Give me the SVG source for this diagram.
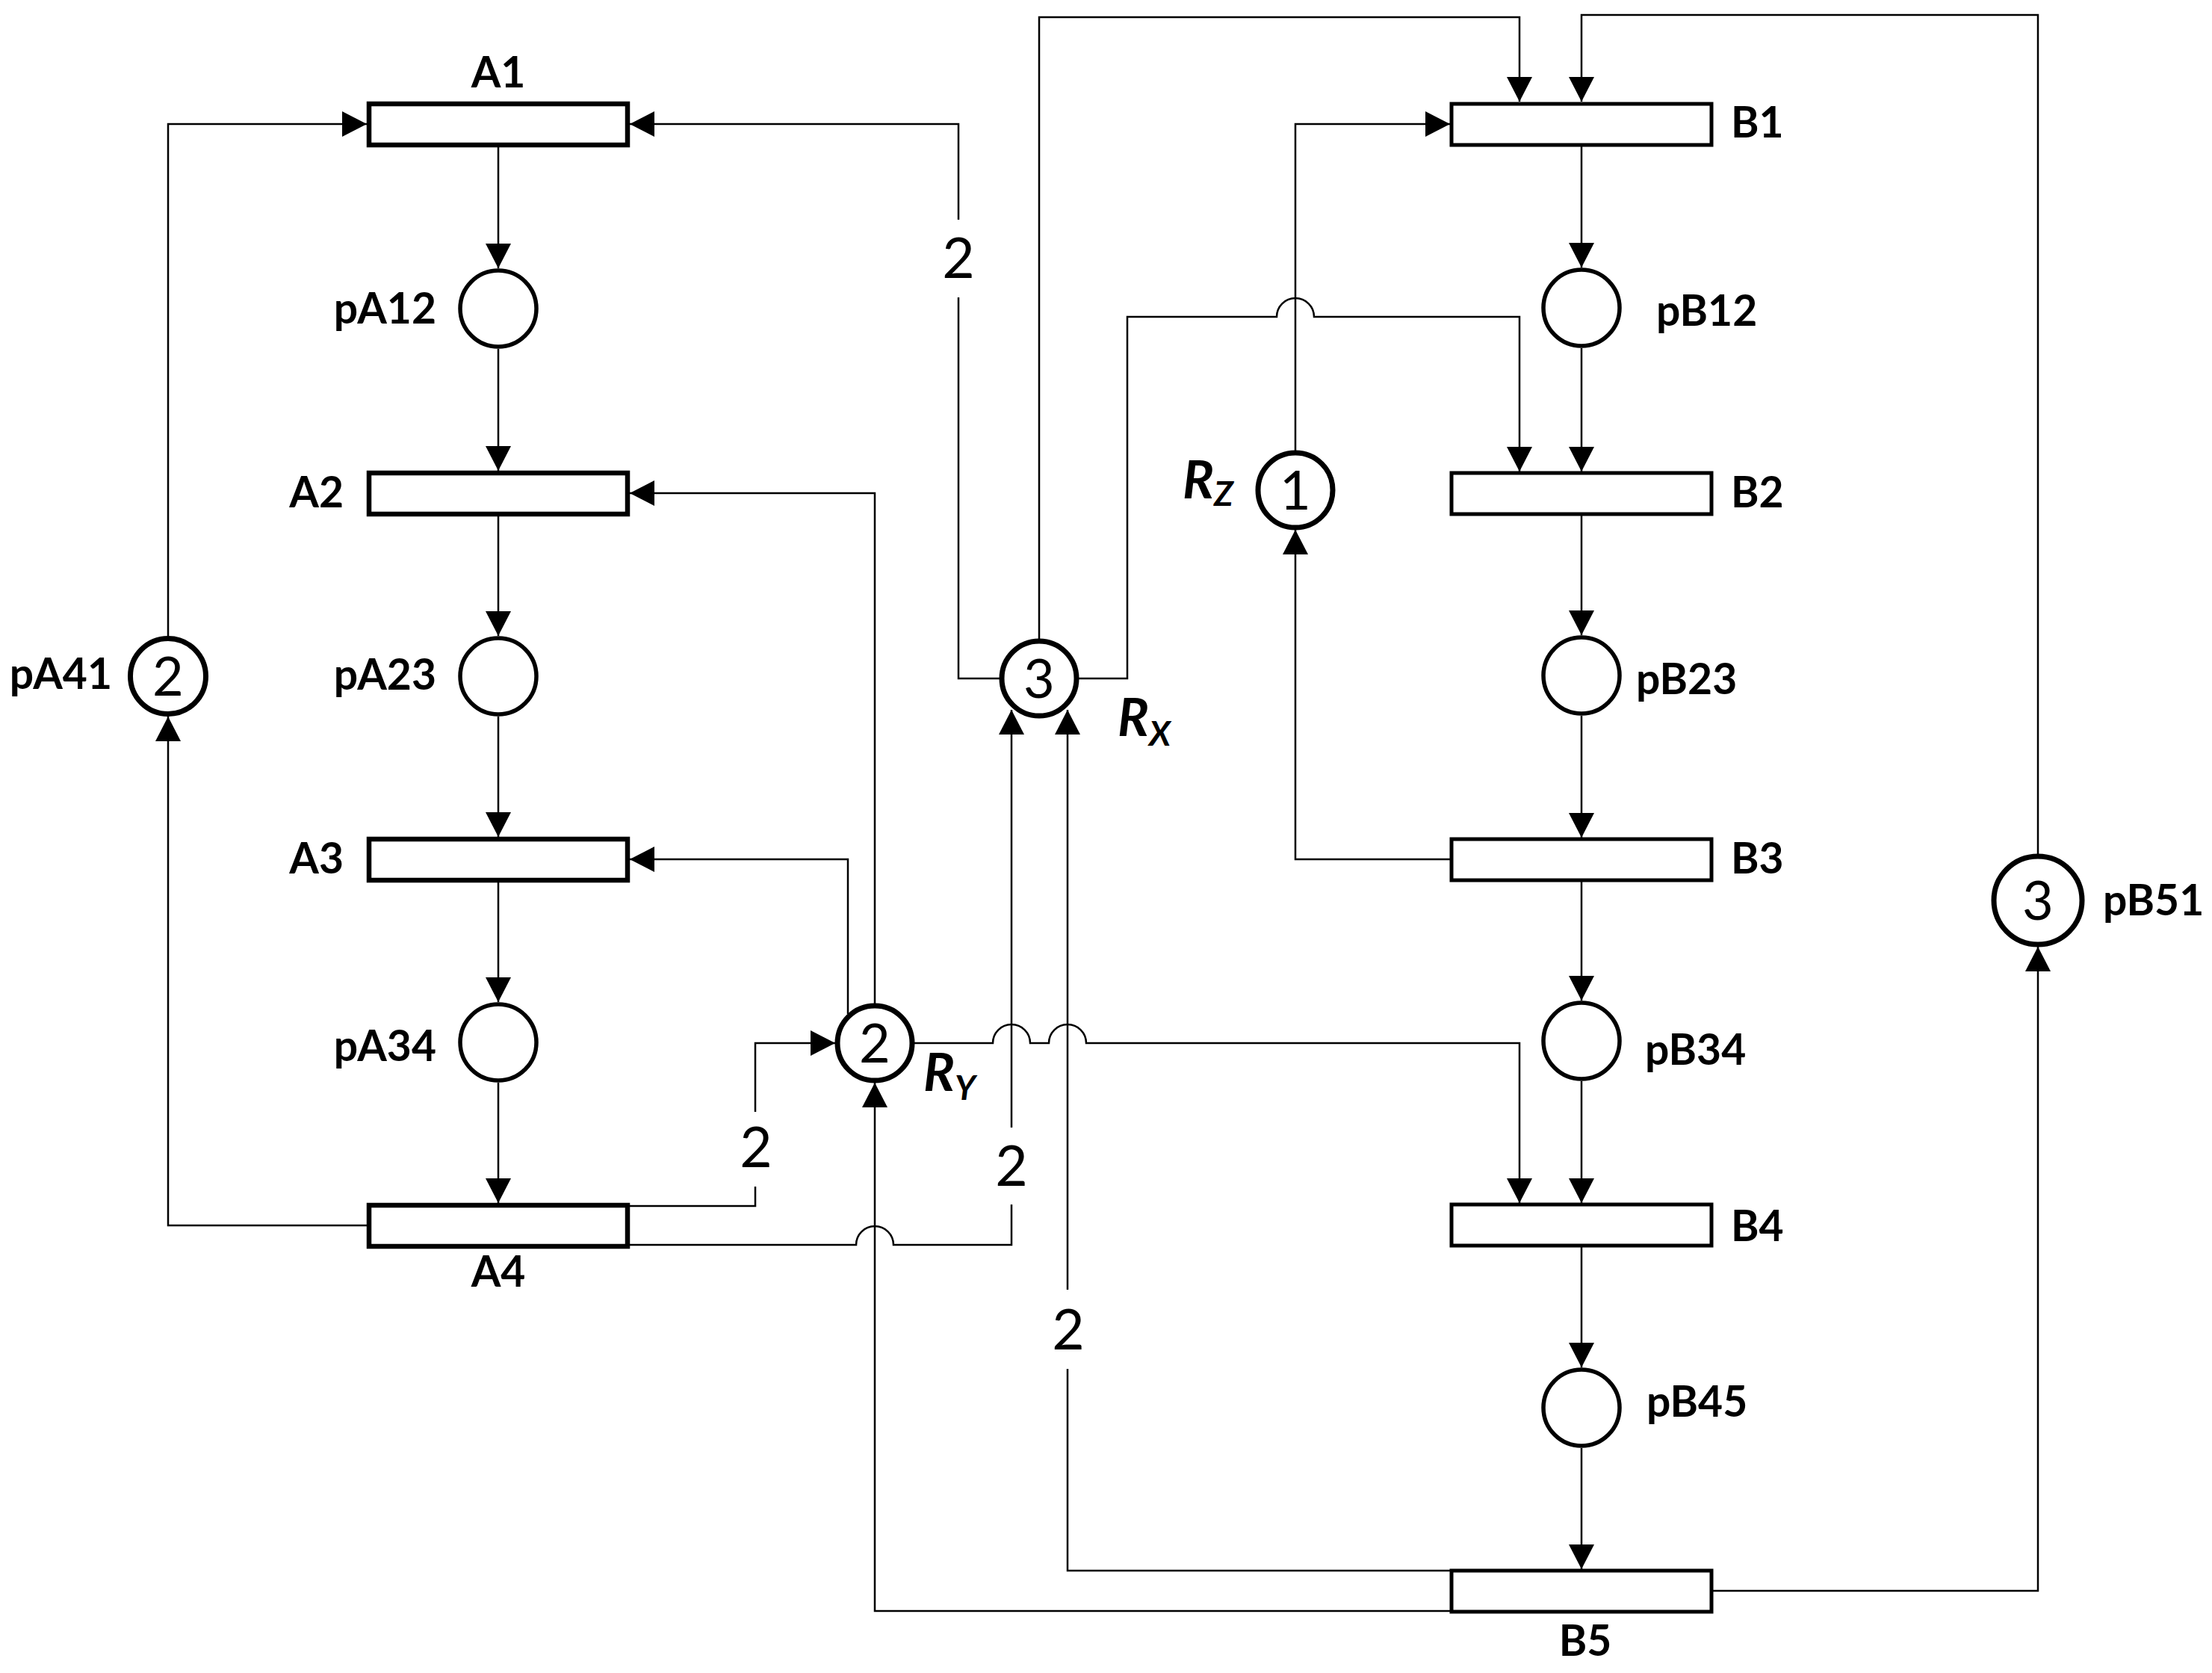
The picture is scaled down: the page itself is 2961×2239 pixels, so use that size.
<svg xmlns="http://www.w3.org/2000/svg" width="2961" height="2239" viewBox="0 0 2961 2239">
<defs>
<marker id="ah" markerUnits="userSpaceOnUse" markerWidth="34" markerHeight="34" refX="33" refY="17" orient="auto">
<path d="M0,0 L33,17 L0,34 z" fill="#000"/>
</marker>
<style>
.c{fill:none;stroke:#000;stroke-width:2.5}
.a{marker-end:url(#ah)}
.tA{fill:#fff;stroke:#000;stroke-width:6.5}
.tB{fill:#fff;stroke:#000;stroke-width:5}
.p{fill:#fff;stroke:#000;stroke-width:5.5}
.r{fill:#fff;stroke:#000;stroke-width:7}
.lb{font-family:Lato,"Liberation Sans",sans-serif;font-weight:bold;font-size:57px;fill:#000}
.tk{font-family:Lato,"Liberation Sans",sans-serif;font-size:72px;fill:#000;text-anchor:middle}
.w{font-family:Lato,"Liberation Sans",sans-serif;font-size:75px;fill:#000;text-anchor:middle}
.rl{font-family:Lato,"Liberation Sans",sans-serif;font-weight:bold;font-style:italic;font-size:70px;fill:#000}
.sb{font-size:46px}
</style>
</defs>
<rect width="2961" height="2239" fill="#fff"/>
<g id="connectors">
<path class="c a" d="M667 197 V359"/>
<path class="c a" d="M667 467 V630"/>
<path class="c a" d="M667 690 V851"/>
<path class="c a" d="M667 959 V1120"/>
<path class="c a" d="M667 1180 V1341"/>
<path class="c a" d="M667 1449 V1610"/>
<path class="c a" d="M2117 196 V358"/>
<path class="c a" d="M2117 466 V631"/>
<path class="c a" d="M2117 690 V850"/>
<path class="c a" d="M2117 958 V1121"/>
<path class="c a" d="M2117 1179 V1339"/>
<path class="c a" d="M2117 1447 V1610"/>
<path class="c a" d="M2117 1668 V1830"/>
<path class="c a" d="M2117 1938 V2100"/>
<path class="c a" d="M225 851 V166 H491"/>
<path class="c a" d="M491 1640 H225 V959"/>
<path class="c" d="M1338 908 H1283 V398"/>
<path class="c a" d="M1283 294 V166 H843"/>
<path class="c a" d="M1391 855 V23 H2034 V136"/>
<path class="c a" d="M1444 908 H1509 V424 H1709 A25 25 0 0 1 1759 424 H2034 V631"/>
<path class="c a" d="M1734 603 V166 H1941"/>
<path class="c a" d="M1941 1150 H1734 V709"/>
<path class="c a" d="M1171 1343 V660 H843"/>
<path class="c a" d="M1135 1357 V1150 H843"/>
<path class="c" d="M843 1614 H1011 V1588"/>
<path class="c a" d="M1011 1488 V1396 H1118"/>
<path class="c" d="M843 1666 H1146 A25 25 0 0 1 1196 1666 H1354 V1612"/>
<path class="c a" d="M1354 1509 V950"/>
<path class="c" d="M1941 2102 H1429 V1832"/>
<path class="c a" d="M1429 1726 V950"/>
<path class="c a" d="M1941 2156 H1171 V1449"/>
<path class="c a" d="M1224 1396 H1329 A25 25 0 0 1 1379 1396 H1404 A25 25 0 0 1 1454 1396 H2034 V1610"/>
<path class="c a" d="M2293 2129 H2728 V1267"/>
<path class="c a" d="M2728 1143 V20 H2117 V136"/>
<text class="w" x="1283" y="372">2</text>
<text class="w" x="1012" y="1562">2</text>
<text class="w" x="1354" y="1587">2</text>
<text class="w" x="1430" y="1806">2</text>
</g>
<g id="A1"><rect class="tA" x="494" y="139" width="346" height="55"/><text class="lb" x="667" y="117" text-anchor="middle">A1</text></g>
<g id="A2"><rect class="tA" x="494" y="633" width="346" height="55"/><text class="lb" x="460" y="679" text-anchor="end">A2</text></g>
<g id="A3"><rect class="tA" x="494" y="1123" width="346" height="55"/><text class="lb" x="460" y="1169" text-anchor="end">A3</text></g>
<g id="A4"><rect class="tA" x="494" y="1613" width="346" height="55"/><text class="lb" x="667" y="1722" text-anchor="middle">A4</text></g>
<g id="pA12"><circle class="p" cx="667" cy="413" r="51"/><text class="lb" x="584" y="433" text-anchor="end">pA12</text></g>
<g id="pA23"><circle class="p" cx="667" cy="905" r="51"/><text class="lb" x="584" y="923" text-anchor="end">pA23</text></g>
<g id="pA34"><circle class="p" cx="667" cy="1395" r="51"/><text class="lb" x="584" y="1420" text-anchor="end">pA34</text></g>
<g id="pA41"><circle class="r" cx="225" cy="905" r="50.5"/><text class="tk" x="225" y="931">2</text><text class="lb" x="150" y="922" text-anchor="end">pA41</text></g>
<g id="B1"><rect class="tB" x="1943" y="139" width="348" height="55"/><text class="lb" x="2317" y="184">B1</text></g>
<g id="B2"><rect class="tB" x="1943" y="633" width="348" height="55"/><text class="lb" x="2317" y="679">B2</text></g>
<g id="B3"><rect class="tB" x="1943" y="1123" width="348" height="55"/><text class="lb" x="2317" y="1169">B3</text></g>
<g id="B4"><rect class="tB" x="1943" y="1612" width="348" height="55"/><text class="lb" x="2317" y="1661">B4</text></g>
<g id="B5"><rect class="tB" x="1943" y="2102" width="348" height="55"/><text class="lb" x="2122" y="2216" text-anchor="middle">B5</text></g>
<g id="pB12"><circle class="p" cx="2117" cy="412" r="51"/><text class="lb" x="2217" y="436">pB12</text></g>
<g id="pB23"><circle class="p" cx="2117" cy="904" r="51"/><text class="lb" x="2190" y="929">pB23</text></g>
<g id="pB34"><circle class="p" cx="2117" cy="1393" r="51"/><text class="lb" x="2202" y="1425">pB34</text></g>
<g id="pB45"><circle class="p" cx="2117" cy="1884" r="51"/><text class="lb" x="2204" y="1896">pB45</text></g>
<g id="pB51"><circle class="r" cx="2728" cy="1205" r="59"/><text class="tk" x="2728" y="1231">3</text><text class="lb" x="2815" y="1225">pB51</text></g>
<g id="Rx"><circle class="r" cx="1391" cy="908" r="50"/><text class="tk" x="1391" y="934">3</text><text class="rl" x="1496" y="985">R<tspan class="sb" dy="13">X</tspan></text></g>
<g id="Ry"><circle class="r" cx="1171" cy="1396" r="50"/><text class="tk" x="1171" y="1422">2</text><text class="rl" x="1236" y="1460">R<tspan class="sb" dy="12">Y</tspan></text></g>
<g id="Rz"><circle class="r" cx="1734" cy="656" r="50"/><text class="tk" x="1734" y="682">1</text><text class="rl" x="1583" y="667">R<tspan class="sb" dy="10">Z</tspan></text></g>
</svg>
